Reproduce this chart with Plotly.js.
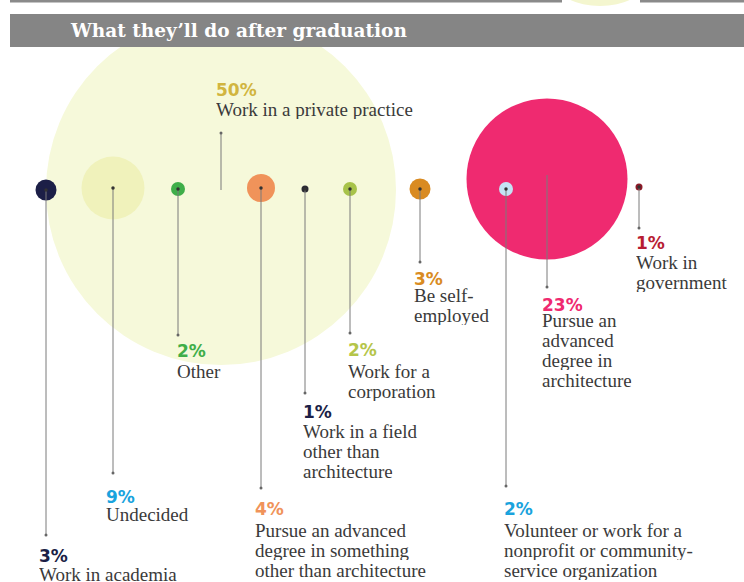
<!DOCTYPE html>
<html><head><meta charset="utf-8">
<script src="https://cdn.plot.ly/plotly-3.0.1.min.js"></script>
<style>html,body{margin:0;padding:0;background:#fff;} #chart{width:744px;height:582px;}</style>
</head><body><div id="chart"></div>
<script>
// ---------- DATA ----------
const title = "What they\u2019ll do after graduation";
const categories = [
  "Work in academia", "Undecided", "Other", "Work in a private practice",
  "Pursue an advanced degree in something other than architecture",
  "Work in a field other than architecture", "Work for a corporation",
  "Be self-employed", "Volunteer or work for a nonprofit or community-service organization",
  "Pursue an advanced degree in architecture", "Work in government"
];
const values = [3, 9, 2, 50, 4, 1, 2, 3, 2, 23, 1];
const descLines = [
  ["Work in academia"], ["Undecided"], ["Other"], ["Work in a private practice"],
  ["Pursue an advanced", "degree in something", "other than architecture"],
  ["Work in a field", "other than", "architecture"],
  ["Work for a", "corporation"], ["Be self-", "employed"],
  ["Volunteer or work for a", "nonprofit or community-", "service organization"],
  ["Pursue an", "advanced", "degree in", "architecture"],
  ["Work in", "government"]
];

// ---------- STYLE / LAYOUT (pixel positions) ----------
const bubbleColors = ["#1c1f47", "#f0f2bb", "#3fae49", "#f6f9da", "#f0935a", "#2b2b33",
                      "#a8c34a", "#d98b22", "#c4e2f4", "#ef2a70", "#8e1a28"];
const pctColors = ["#1c1f47", "#1aa3dd", "#3fae49", "#d1b53f", "#f0935a", "#1c1f47",
                   "#b5c54a", "#d98b22", "#1aa3dd", "#ef2a70", "#b81d33"];
const bubbleX = [46, 113, 178, 221, 261, 305, 350, 420, 506, 547, 639];
const bubbleY = [190, 188, 189, 190, 188, 189, 189, 189, 189, 179, 187];
const leaderStartY = [190, 188, 189, 190, 188, 189, 189, 189, 189, 175, 187];
const leaderEndY = [535, 473, 335, 133, 488, 393, 333, 262, 486, 287, 228];
const labelX = [38, 105, 176, 215, 254, 302, 347, 413, 503, 541, 635];
const pctTop = [549, 490, 344, 83, 502, 405, 343, 272, 502, 298, 236];
const textTop = [568, 508, 365, 103, 524, 425, 365, 289, 524, 314, 256];
const lineStep = 20;

const W = 744, H = 582;
const order = values.map((v, i) => i).sort((a, b) => values[b] - values[a]);

const traces = [];
traces.push({
  type: "scatter", mode: "markers", hoverinfo: "skip",
  x: order.map(i => bubbleX[i]), y: order.map(i => bubbleY[i]),
  marker: {size: order.map(i => values[i]), sizemode: "diameter", sizeref: 1 / 7,
           color: order.map(i => bubbleColors[i]), line: {width: 0}, opacity: 1}
});
const lx = [], ly = [];
values.forEach((v, i) => { lx.push(bubbleX[i], bubbleX[i], null); ly.push(leaderStartY[i], leaderEndY[i], null); });
traces.push({type: "scatter", mode: "lines", hoverinfo: "skip", x: lx, y: ly,
  line: {color: "#7a7a7a", width: 1}});
traces.push({type: "scatter", mode: "markers", hoverinfo: "skip",
  x: bubbleX.filter((x, i) => values[i] < 20), y: bubbleY.filter((y, i) => values[i] < 20),
  marker: {size: 3.5, color: "#333"}});
traces.push({type: "scatter", mode: "markers", hoverinfo: "skip",
  x: bubbleX, y: leaderEndY, marker: {size: 3, color: "#666"}});

const annotations = [];
values.forEach((v, i) => {
  annotations.push({x: labelX[i], y: pctTop[i] - 3, xref: "x", yref: "y", xanchor: "left", yanchor: "top",
    showarrow: false, text: "<b>" + v + "%</b>", height: 17, borderpad: 0,
    font: {family: "DejaVu Sans", size: 17, color: pctColors[i]}});
  descLines[i].forEach((t, k) => {
    annotations.push({x: labelX[i], y: textTop[i] - 4 + k * lineStep, xref: "x", yref: "y",
      xanchor: "left", yanchor: "top", showarrow: false, text: t, height: 19, borderpad: 0,
      font: {family: "Liberation Serif", size: 19, color: "#3a3a3a"}});
  });
});
annotations.push({x: 68, y: 30, xref: "x", yref: "y", xanchor: "left", yanchor: "middle",
  showarrow: false, text: "<b>" + title + "</b>",
  font: {family: "DejaVu Serif", size: 18.5, color: "#ffffff"}});

const shapes = [
  {type: "rect", xref: "x", yref: "y", x0: 10, x1: W, y0: 14, y1: 47, fillcolor: "#858585", line: {width: 0}, layer: "above"},
  {type: "circle", xref: "x", yref: "y", x0: 556, x1: 644, y0: -40, y1: 6, fillcolor: "#f4f6cf", line: {width: 0}, layer: "above"},
  {type: "rect", xref: "x", yref: "y", x0: 10, x1: 562, y0: 0, y1: 2.5, fillcolor: "#8a8a8a", line: {width: 0}, layer: "above"},
  {type: "rect", xref: "x", yref: "y", x0: 640, x1: W, y0: 0, y1: 2.5, fillcolor: "#8a8a8a", line: {width: 0}, layer: "above"}
];

Plotly.newPlot("chart", traces, {
  width: W, height: H, margin: {l: 0, r: 0, t: 0, b: 0},
  paper_bgcolor: "#fff", plot_bgcolor: "#fff", showlegend: false,
  xaxis: {range: [0, W], visible: false, fixedrange: true},
  yaxis: {range: [H, 0], visible: false, fixedrange: true},
  annotations: annotations, shapes: shapes
}, {staticPlot: true});
</script></body></html>
